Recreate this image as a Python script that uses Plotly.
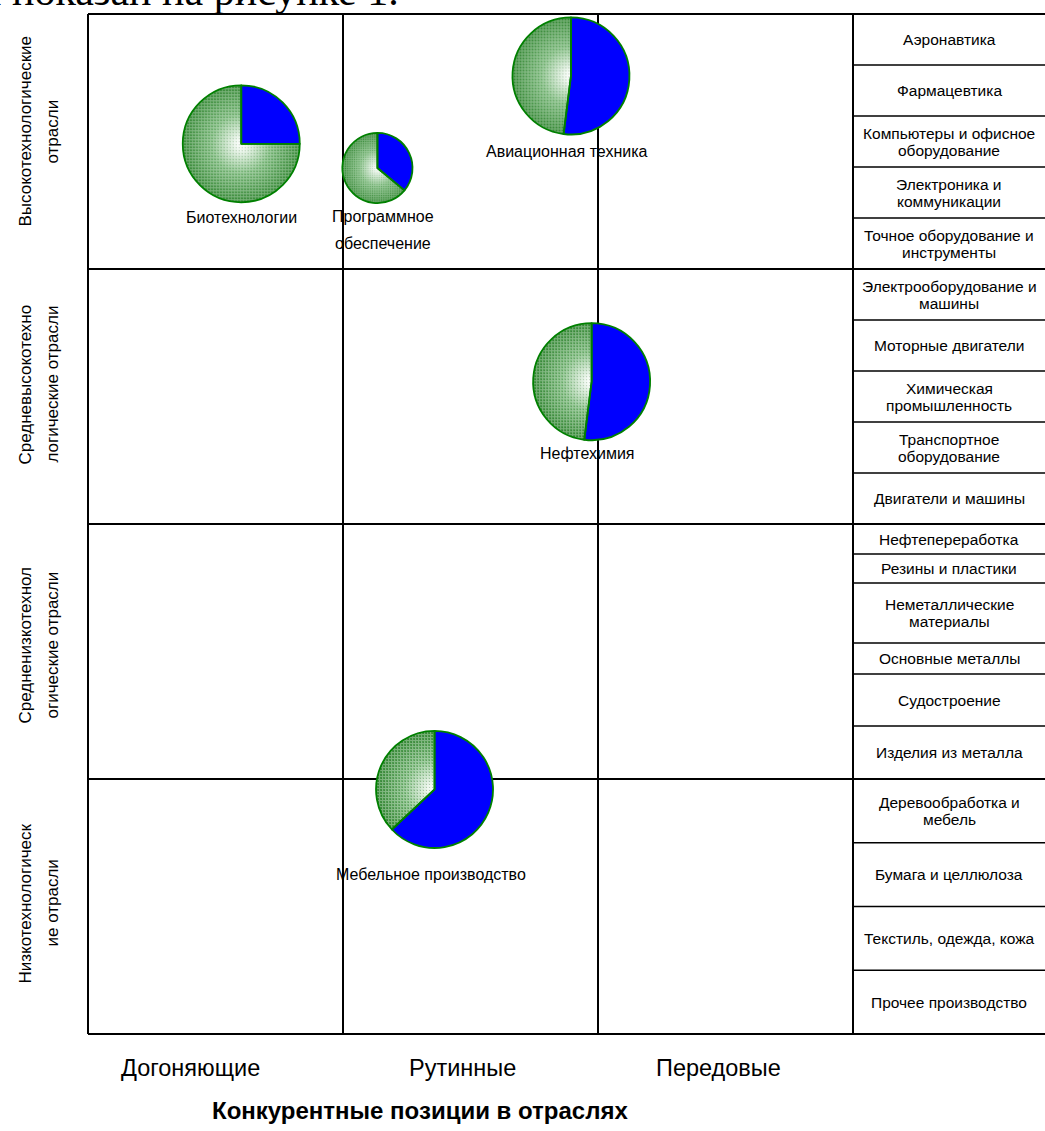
import base64
import plotly.graph_objects as go

# ---------------- data ----------------
column_labels = ["Догоняющие", "Рутинные", "Передовые"]
row_labels = [  # top to bottom, two lines each
    ["Высокотехнологические", "отрасли"],
    ["Средневысокотехно", "логические отрасли"],
    ["Средненизкотехнол", "огические отрасли"],
    ["Низкотехнологическ", "ие отрасли"],
]
industries = [["Биотехнологии"], ["Программное", "обеспечение"], ["Авиационная техника"],
              ["Нефтехимия"], ["Мебельное производство"]]
competitive_pos = [0.601, 1.135, 1.894, 1.975, 1.359]   # 0..3 (columns)
tech_level = [3.491, 3.396, 3.757, 2.558, 0.959]        # 0..4 (rows)
blue_share = [25, 36, 52, 52, 63]
other_share = [75, 64, 48, 48, 37]
relative_size = [1.0, 0.6, 1.0, 1.0, 1.0]
sector_lists = [
    ["Аэронавтика", "Фармацевтика", "Компьютеры и офисное|оборудование",
     "Электроника и|коммуникации", "Точное оборудование и|инструменты"],
    ["Электрооборудование и|машины", "Моторные двигатели", "Химическая|промышленность",
     "Транспортное|оборудование", "Двигатели и машины"],
    ["Нефтепереработка", "Резины и пластики", "Неметаллические|материалы",
     "Основные металлы", "Судостроение", "Изделия из металла"],
    ["Деревообработка и|мебель", "Бумага и целлюлоза", "Текстиль, одежда, кожа",
     "Прочее производство"],
]
x_title = "Конкурентные позиции в отраслях"
top_text = "и показан на рисунке 1."

# ---------------- layout constants ----------------
W, H = 1045, 1131
PX = 255.0
ML, MT, MB, MR = 80, 6, 89, 0
PAD = 8 / PX
plot_w = W - ML - MR
plot_h = H - MT - MB
x_range = [-PAD, (plot_w - 8) / PX]
y_range = [-PAD, (plot_h - 8) / PX]
R_MAX = 58.5
cell_weights = [[1] * 5, [1] * 5, [30, 29, 60, 31, 52, 53], [1] * 4]
label_shift = [(0, -74), (6, -62), (-4, -76), (-4, -72), (-4, -85)]
row_label_shift = [10, 12, 6, 3]
col_label_shift = [-25, -8, -7]

SANS = "Liberation Sans, Arial, sans-serif"
GREEN_LINE = "#008000"
BLUE = "#0000ff"

# radial-gradient + fine grid texture disc used behind the green part of every pie
disc_svg = (
    "<svg xmlns='http://www.w3.org/2000/svg' width='117' height='117' viewBox='0 0 117 117'>"
    "<defs>"
    "<radialGradient id='g' cx='50%' cy='50%' r='50%'>"
    "<stop offset='0' stop-color='#ffffff'/>"
    "<stop offset='0.1' stop-color='#eef7ee'/>"
    "<stop offset='0.5' stop-color='#7cba7c'/>"
    "<stop offset='1' stop-color='#368a36'/>"
    "</radialGradient>"
    "<pattern id='p' width='3' height='3' patternUnits='userSpaceOnUse'>"
    "<rect x='0' y='0' width='3' height='1' fill='#ffffff' fill-opacity='0.3'/>"
    "<rect x='0' y='1' width='1' height='2' fill='#ffffff' fill-opacity='0.3'/>"
    "<rect x='2' y='2' width='1' height='1' fill='#1d5e1d' fill-opacity='0.3'/>"
    "</pattern>"
    "</defs>"
    "<circle cx='58.5' cy='58.5' r='58.5' fill='url(#g)'/>"
    "<circle cx='58.5' cy='58.5' r='58.5' fill='url(#p)'/>"
    "</svg>"
)
DISC_SRC = "data:image/svg+xml;base64," + base64.b64encode(disc_svg.encode("utf-8")).decode("ascii")


def px(x):
    return (x - x_range[0]) / (x_range[1] - x_range[0])


def py(y):
    return (y - y_range[0]) / (y_range[1] - y_range[0])


fig = go.Figure()

images = []
for i in range(len(industries)):
    r = R_MAX * relative_size[i]
    rd = r / PX
    images.append(dict(source=DISC_SRC, xref="x", yref="y",
                       x=competitive_pos[i] - rd, y=tech_level[i] + rd,
                       sizex=2 * rd, sizey=2 * rd, xanchor="left", yanchor="top",
                       sizing="stretch", layer="below"))
    cxp, cyp = px(competitive_pos[i]), py(tech_level[i])
    rx, ry = r / plot_w, r / plot_h
    fig.add_trace(go.Pie(
        values=[blue_share[i], other_share[i]], labels=["blue", "other"],
        sort=False, direction="clockwise", rotation=0, textinfo="none",
        hoverinfo="skip", showlegend=False,
        domain=dict(x=[cxp - rx, cxp + rx], y=[cyp - ry, cyp + ry]),
        marker=dict(colors=[BLUE, "rgba(0,0,0,0)"],
                    line=dict(color=GREEN_LINE, width=1.8)),
    ))

# invisible cartesian trace so the data axes exist
fig.add_trace(go.Scatter(x=competitive_pos, y=tech_level, mode="markers",
                         marker=dict(size=1, opacity=0), hoverinfo="skip", showlegend=False))

shapes = []
LINE = dict(color="black", width=2)
for c in range(4):
    shapes.append(dict(type="line", xref="x", yref="y", x0=c, x1=c, y0=0, y1=4,
                       line=LINE, layer="below"))
for rr in range(5):
    shapes.append(dict(type="line", xref="x", yref="y", x0=0, x1=x_range[1], y0=rr, y1=rr,
                       line=LINE, layer="below"))

annotations = []
list_xc = (3 + x_range[1]) / 2
for ri, (items, weights) in enumerate(zip(sector_lists, cell_weights)):
    top = 4 - ri
    tot = sum(weights)
    acc = 0
    for k, (lab, w) in enumerate(zip(items, weights)):
        y_top = top - acc / tot
        acc += w
        y_bot = top - acc / tot
        if k < len(items) - 1:
            shapes.append(dict(type="line", xref="x", yref="y", x0=3, x1=x_range[1],
                               y0=y_bot, y1=y_bot, line=dict(color="black", width=1.5),
                               layer="below"))
        yc = (y_top + y_bot) / 2
        lines = lab.split("|")
        n = len(lines)
        for li, t in enumerate(lines):
            annotations.append(dict(
                x=list_xc, y=yc, xref="x", yref="y", text=t, showarrow=False,
                yshift=(n - 1) * 8.5 - li * 17,
                font=dict(family=SANS, size=15.5, color="black"), xanchor="center", yanchor="middle"))

# pie labels
for i, lines in enumerate(industries):
    n = len(lines)
    for li, t in enumerate(lines):
        annotations.append(dict(
            x=px(competitive_pos[i]), y=py(tech_level[i]), xref="paper", yref="paper",
            text=t, showarrow=False, xshift=label_shift[i][0],
            yshift=label_shift[i][1] + (n - 1) * 13.5 - li * 27,
            font=dict(family=SANS, size=16, color="black"), xanchor="center", yanchor="middle"))

# row labels (rotated, two lines)
for ri, lines in enumerate(row_labels):
    for li, t in enumerate(lines):
        annotations.append(dict(
            x=px(0), y=py(3.5 - ri), xref="paper", yref="paper", text=t, showarrow=False,
            textangle=-90, xshift=-63 + 27 * li, yshift=row_label_shift[ri],
            font=dict(family=SANS, size=17, color="black"), xanchor="center", yanchor="middle"))

# column labels
for ci, lab in enumerate(column_labels):
    annotations.append(dict(
        x=px(ci + 0.5), y=py(0), xref="paper", yref="paper", text=lab, showarrow=False,
        xshift=col_label_shift[ci], yshift=-34,
        font=dict(family=SANS, size=23.5, color="black"), xanchor="center", yanchor="middle"))

annotations.append(dict(
    x=px((420 - 88) / PX), y=py(0), xref="paper", yref="paper", text="<b>" + x_title + "</b>",
    showarrow=False, yshift=-76,
    font=dict(family=SANS, size=24, color="black"), xanchor="center", yanchor="middle"))

annotations.append(dict(
    x=px((400 - 88) / PX), y=py((1034 - 15) / PX), xref="paper", yref="paper", text=top_text,
    showarrow=False, font=dict(family="Liberation Serif, Times New Roman, serif", size=42, color="black"),
    xanchor="right", yanchor="bottom", borderpad=0))

fig.update_layout(
    width=W, height=H, margin=dict(l=ML, r=MR, t=MT, b=MB, pad=0),
    paper_bgcolor="white", plot_bgcolor="white", showlegend=False,
    xaxis=dict(range=x_range, visible=False, fixedrange=True),
    yaxis=dict(range=y_range, visible=False, fixedrange=True),
    shapes=shapes, annotations=annotations, images=images,
)

fig.write_html("out.html")
